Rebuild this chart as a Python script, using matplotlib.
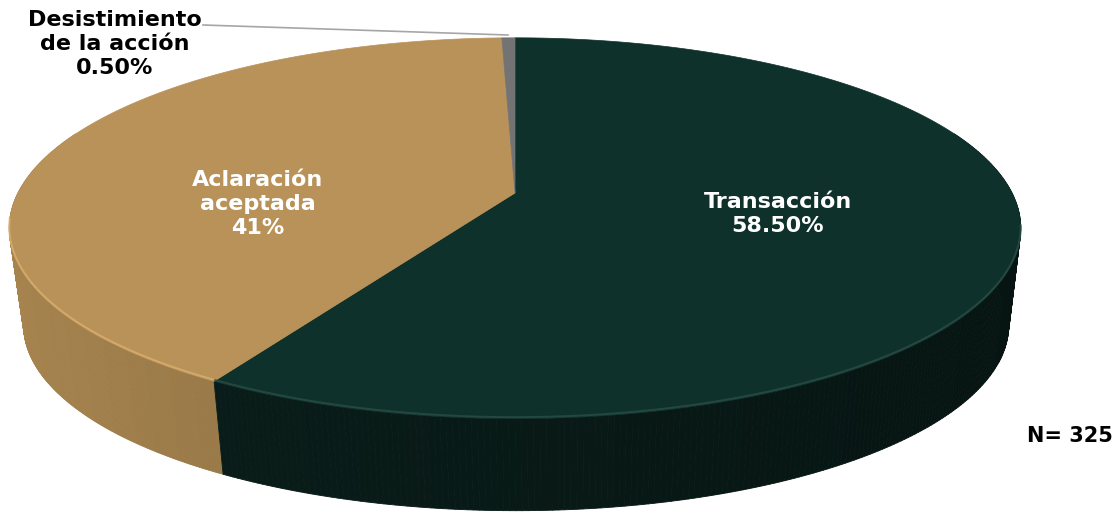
import numpy as np
import matplotlib.pyplot as plt
from matplotlib.patches import Polygon
from matplotlib.collections import PolyCollection
from matplotlib.colors import to_rgb

# Datos del gráfico
etiquetas = ["Transacción", "Aclaración\naceptada", "Desistimiento\nde la acción"]
valores = [58.5, 41.0, 0.5]
textos_valor = ["58.50%", "41%", "0.50%"]
n_total = 325

col_sup = ["#0F312B", "#B99259", "#737373"]
col_lado = ["#0A1F1B", "#A8854F", "#5E5E5E"]
col_borde = ["#2C5149", "#DDB271", "#8A8A8A"]

# Proyección en perspectiva de la cara superior
cx, cy = 515, 193
D = 5.02
phi = np.arcsin(0.37)
S = 2495
sf, cf = np.sin(phi), np.cos(phi)

# punto de fuga de las aristas verticales y escala de la base
vx, vy = 560, 3945
k_base = 1 - 0.0261


def proy(th):
    x, y = np.sin(th), np.cos(th)
    prof = D + cf * y
    return cx + S * x / prof, cy - S * sf * y / prof


def base(X, Y):
    return vx + (X - vx) * k_base, vy + (Y - vy) * k_base


fig = plt.figure(figsize=(11.19, 5.12), dpi=100)
ax = fig.add_axes([0, 0, 1, 1])
ax.set_xlim(0, 1119)
ax.set_ylim(512, 0)
ax.axis("off")

# ángulos en grados, sentido horario desde atrás
limites = np.concatenate([[0], np.cumsum(valores)]) / 100 * 360
vis_min, vis_max = 70, 290

# paredes laterales (de atrás hacia adelante)
polys, colores, orden = [], [], []
for i in range(len(valores)):
    a0, a1 = max(limites[i], vis_min), min(limites[i + 1], vis_max)
    if a1 <= a0:
        continue
    th = np.radians(np.linspace(a0, a1, 240))
    rgb = np.array(to_rgb(col_lado[i]))
    for k in range(len(th) - 1):
        xa, ya = proy(th[k])
        xb, yb = proy(th[k + 1])
        xc, yc = base(xb, yb)
        xd, yd = base(xa, ya)
        polys.append([(xa, ya), (xb, yb), (xc, yc), (xd, yd)])
        tm = (th[k] + th[k + 1]) / 2
        f = 1 - 0.35 * (np.sin(tm) + 1) / 2
        colores.append(np.clip(rgb * f, 0, 1))
        orden.append(np.cos(tm))
idx = np.argsort(orden)[::-1]
polys = [polys[j] for j in idx]
colores = [colores[j] for j in idx]
ax.add_collection(PolyCollection(polys, facecolors=colores,
                                 edgecolors=colores, linewidths=0.6))

# caras superiores
for i in range(len(valores)):
    th = np.radians(np.linspace(limites[i], limites[i + 1], 300))
    xs, ys = proy(th)
    pts = [(cx, cy)] + list(zip(xs, ys))
    ax.add_patch(Polygon(pts, closed=True, facecolor=col_sup[i],
                         edgecolor=col_sup[i], linewidth=0.5))
    a0, a1 = max(limites[i], 100), min(limites[i + 1], 262)
    if a1 > a0:
        th = np.radians(np.linspace(a0, a1, 200))
        xs, ys = proy(th)
        ax.plot(xs, ys - 1.5, color=col_borde[i], lw=1.4, alpha=0.75,
                solid_capstyle="butt")

# etiquetas
fuente = dict(fontsize=16, fontweight="bold", family="DejaVu Sans",
              ha="center", va="center", linespacing=1.22)
ax.text(778, 214, etiquetas[0] + "\n" + textos_valor[0], color="white", **fuente)
ax.text(258, 204, etiquetas[1] + "\n" + textos_valor[1], color="white", **fuente)
ax.text(115, 44, etiquetas[2] + "\n" + textos_valor[2], color="black", **fuente)
ax.plot([203, 508], [25, 35], color="#A6A6A6", lw=1.2)
ax.text(1070, 436, f"N= {n_total}", color="black", fontsize=15,
        fontweight="bold", ha="center", va="center")

fig.savefig("out.png", dpi=100)
